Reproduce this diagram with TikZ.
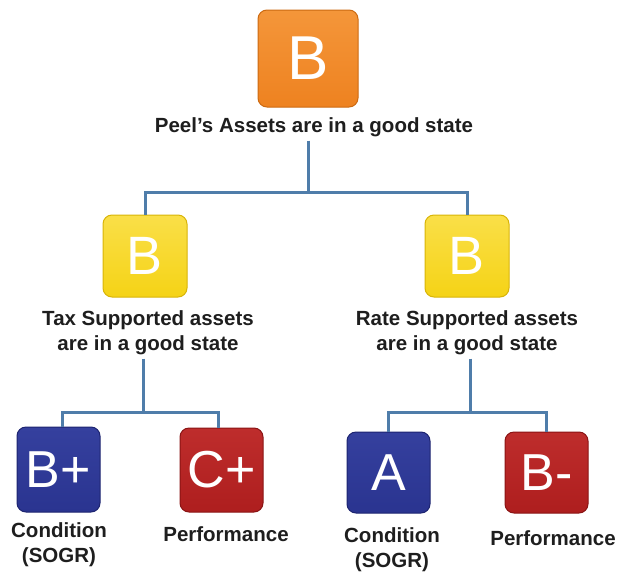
\documentclass[tikz,border=0pt]{standalone}
\usepackage{fontspec}
\setmainfont{Liberation Sans}
\begin{document}
\begin{tikzpicture}[x=1pt,y=-1pt,
  gradebox/.style={rounded corners=9pt, line width=1pt, inner sep=0pt,
    text=white, font=\fontsize{52}{52}\selectfont},
  orangebox/.style={gradebox, draw=gOrangeD, top color=gOrangeL, bottom color=gOrange},
  yellowbox/.style={gradebox, draw=gYellowD, top color=gYellowL, bottom color=gYellow},
  bluebox/.style={gradebox, draw=gBlueD, top color=gBlueL, bottom color=gBlue},
  redbox/.style={gradebox, draw=gRedD, top color=gRedL, bottom color=gRed},
  lbl/.style={font=\bfseries\fontsize{20.5}{24.5}\selectfont, text=gText,
    align=center, inner sep=0pt, anchor=base},
  conn/.style={draw=gLine, line width=3pt}
]
\definecolor{gOrange}{HTML}{EE8220}
\definecolor{gOrangeL}{HTML}{F4963A}
\definecolor{gOrangeD}{HTML}{CC6A12}
\definecolor{gYellow}{HTML}{F5D316}
\definecolor{gYellowL}{HTML}{FADF48}
\definecolor{gYellowD}{HTML}{D8B408}
\definecolor{gBlue}{HTML}{2A3490}
\definecolor{gBlueL}{HTML}{35409E}
\definecolor{gBlueD}{HTML}{1D2470}
\definecolor{gRed}{HTML}{AE1E1E}
\definecolor{gRedL}{HTML}{BE2D2C}
\definecolor{gRedD}{HTML}{8A1414}
\definecolor{gLine}{HTML}{4F7DAA}
\definecolor{gText}{HTML}{1E1E1E}

\useasboundingbox (0,0) rectangle (619,574);

% top level
\node[orangebox, minimum width=100pt, minimum height=97pt,
      font=\fontsize{62}{62}\selectfont] (top) at (308,58.5) {B};
\node[lbl] (toplbl) at (314,132) {Peel’s Assets are in a good state};

% second level
\node[yellowbox, minimum width=84pt, minimum height=82pt,
      font=\fontsize{54}{54}\selectfont] (tax) at (145,256) {B};
\node[yellowbox, minimum width=84pt, minimum height=82pt,
      font=\fontsize{54}{54}\selectfont] (rate) at (467,256) {B};
% two-line labels: the base anchor sits on the last line
\node[lbl] (taxlbl) at (148,350) {Tax Supported assets\\are in a good state};
\node[lbl] (ratelbl) at (467,350) {Rate Supported assets\\are in a good state};

% third level
\node[bluebox, minimum width=83pt, minimum height=85pt] (tc) at (58.5,469.5) {B+};
\node[redbox, minimum width=83pt, minimum height=84pt] (tp) at (221.5,470) {C+};
\node[bluebox, minimum width=83pt, minimum height=81pt] (rc) at (388.5,472.5) {A};
\node[redbox, minimum width=83pt, minimum height=81pt] (rp) at (546.5,472.5) {B-};

\node[lbl] (tclbl) at (59,562) {Condition\\(SOGR)};
\node[lbl] (tplbl) at (226,541) {Performance};
\node[lbl] (rclbl) at (392,567) {Condition\\(SOGR)};
\node[lbl] (rplbl) at (553,545) {Performance};

% junctions of the tree
\coordinate (j1) at (308,192);
\coordinate (j2) at (143,412);
\coordinate (j3) at (470,412);

\draw[conn] ([yshift=-4pt]toplbl.south -| top.south) -- (j1);
\draw[conn] (tax.north) |- (j1) -| (rate.north);

\draw[conn] ([yshift=-4pt]taxlbl.south -| j2) -- (j2);
\draw[conn] ([xshift=3.5pt]tc.north) |- (j2) -| ([xshift=-3.5pt]tp.north);

\draw[conn] ([yshift=-4pt]ratelbl.south -| j3) -- (j3);
\draw[conn] (rc.north) |- (j3) -| (rp.north);
\end{tikzpicture}
\end{document}
